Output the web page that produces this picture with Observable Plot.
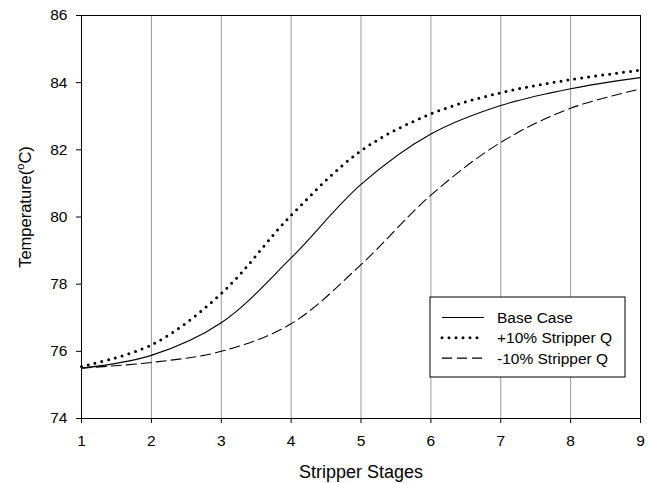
<!DOCTYPE html>
<html>
<head>
<meta charset="utf-8">
<script src="https://cdn.jsdelivr.net/npm/d3@7"></script>
<script src="https://cdn.jsdelivr.net/npm/@observablehq/plot@0.6"></script>
<style>
  html, body { margin: 0; padding: 0; background: #fff; }
  svg { font-family: "Liberation Sans", Arial, sans-serif; }
</style>
</head>
<body>
<div id="chart"></div>
<script>
const stages = [1, 2, 3, 4, 5, 6, 7, 8, 9];
const baseCase = [75.50, 75.88, 76.85, 78.78, 80.97, 82.47, 83.32, 83.82, 84.15];
const plusQ    = [75.55, 76.19, 77.72, 80.05, 81.97, 83.07, 83.70, 84.09, 84.37];
const minusQ   = [75.50, 75.67, 76.00, 76.82, 78.58, 80.65, 82.22, 83.24, 83.81];
const yTicks = [74, 76, 78, 80, 82, 84, 86];
const seriesNames = ["Base Case", "+10% Stripper Q", "-10% Stripper Q"];

const styles = [
  {strokeWidth: 1.1},
  {strokeWidth: 3, strokeDasharray: "0 7", strokeLinecap: "round"},
  {strokeWidth: 1.1, strokeDasharray: "10 5"}
];
const seriesValues = [baseCase, plusQ, minusQ];
const tables = seriesValues.map(vals => stages.map((s, i) => ({x: s, y: vals[i]})));

const W = 650, H = 483;
const mL = 81, mR = 10, mT = 15, mB = 65;

const chart = Plot.plot({
  width: W,
  height: H,
  marginLeft: mL,
  marginRight: mR,
  marginTop: mT,
  marginBottom: mB,
  style: {fontFamily: "Liberation Sans, Arial, sans-serif", fontSize: "15.5px", color: "#000", background: "#fff"},
  x: {domain: [1, 9], label: null},
  y: {domain: [74, 86], label: null},
  marks: [
    Plot.gridX(stages, {stroke: "#999", strokeOpacity: 1, strokeWidth: 1}),
    ...tables.map((t, i) => Plot.line(t, {x: "x", y: "y", curve: "catmull-rom", stroke: "#000", ...styles[i]})),
    Plot.frame({stroke: "#000", strokeWidth: 1}),
    Plot.axisX({ticks: stages, tickSize: 5, tickPadding: 11, label: null, tickFormat: d => String(d)}),
    Plot.axisY({ticks: yTicks, tickSize: 5, tickPadding: 9, label: null, tickFormat: d => String(d)})
  ]
});

document.getElementById("chart").appendChild(chart);
const svg = d3.select(chart);
svg.attr("font-size", 15.5);
svg.selectAll('g[aria-label$="tick label"]').attr("font-size", 15.5)
  .selectAll("text").style("font-size", "15.5px");

// Axis titles
svg.append("text")
  .attr("x", 361)
  .attr("y", 478)
  .attr("text-anchor", "middle")
  .attr("font-size", 18)
  .attr("fill", "#000")
  .text("Stripper Stages");

const yl = svg.append("text")
  .attr("transform", `translate(31, 207) rotate(-90)`)
  .attr("text-anchor", "middle")
  .attr("font-size", 16.5)
  .attr("fill", "#000");
yl.append("tspan").text("Temperature(");
yl.append("tspan").attr("font-size", 11).attr("dy", -7).text("o");
yl.append("tspan").attr("dy", 7).text("C)");

// Legend
const lg = svg.append("g").attr("transform", "translate(430, 297)");
lg.append("rect").attr("width", 195).attr("height", 80)
  .attr("fill", "#fff").attr("stroke", "#000").attr("stroke-width", 1);
seriesNames.forEach((name, i) => {
  const yy = 20.5 + i * 20.3;
  const s = styles[i];
  lg.append("line")
    .attr("x1", 12).attr("x2", 54).attr("y1", yy).attr("y2", yy)
    .attr("stroke", "#000")
    .attr("stroke-width", s.strokeWidth)
    .attr("stroke-dasharray", s.strokeDasharray || null)
    .attr("stroke-linecap", s.strokeLinecap || null);
  lg.append("text").attr("x", 67).attr("y", yy + 5.5)
    .attr("text-anchor", "start")
    .attr("font-size", 15.5).attr("fill", "#000").text(name);
});
</script>
</body>
</html>
